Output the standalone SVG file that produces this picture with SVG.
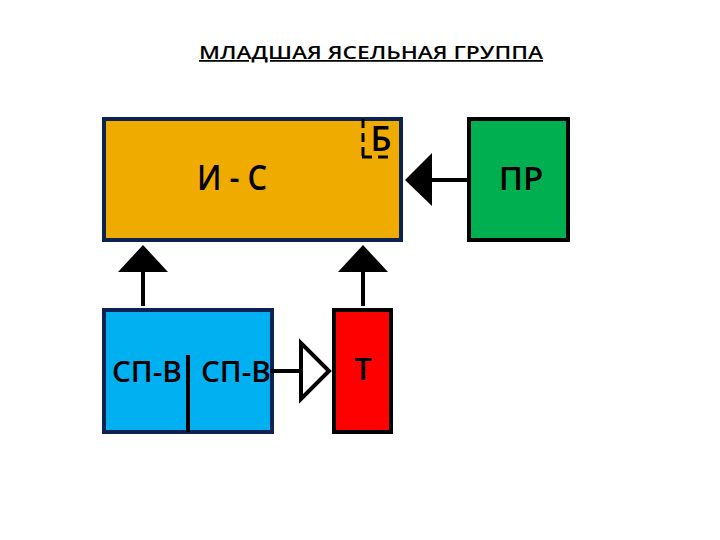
<svg xmlns="http://www.w3.org/2000/svg" width="720" height="540" viewBox="0 0 720 540">
<style>
.lbl{font-family:"Open Sans","Noto Sans",sans-serif;font-weight:600;fill:#000;text-anchor:middle}
.navy{stroke:#0b2352;stroke-width:4}
.blk{stroke:#000;stroke-width:4}
.ln{stroke:#000;stroke-width:4;fill:none}
</style>
<rect width="720" height="540" fill="#fff"/>
<text x="371" y="59" font-family="Open Sans, sans-serif" font-weight="600" font-size="17.5" text-anchor="middle" text-decoration="underline" textLength="344" lengthAdjust="spacingAndGlyphs">МЛАДШАЯ ЯСЕЛЬНАЯ ГРУППА</text>
<g id="node-is">
<rect x="104" y="119" width="297" height="121" fill="#f0ab00" class="navy"/>
<text class="lbl" x="232" y="190" font-size="34" textLength="70" lengthAdjust="spacingAndGlyphs">И - С</text>
</g>
<g id="node-b">
<line x1="363" y1="119" x2="363" y2="157" stroke="#000" stroke-width="3" stroke-dasharray="9,5"/>
<line x1="362" y1="157" x2="394" y2="157" stroke="#000" stroke-width="3" stroke-dasharray="10,6"/>
<text class="lbl" x="381" y="151" font-size="34" font-weight="700" textLength="21" lengthAdjust="spacingAndGlyphs">Б</text>
</g>
<g id="node-pr">
<rect x="469" y="119" width="99" height="121" fill="#00b050" class="blk"/>
<text class="lbl" x="521" y="190" font-size="33">ПР</text>
</g>
<g id="node-spv">
<rect x="104" y="310" width="168" height="122" fill="#00b0f0" class="navy"/>
<line x1="188" y1="355" x2="188" y2="432" class="ln"/>
<text class="lbl" x="147" y="382" font-size="29" fill="#0b1a3a" textLength="70" lengthAdjust="spacingAndGlyphs">СП-В</text>
<text class="lbl" x="236" y="382" font-size="29" fill="#0b1a3a" textLength="70" lengthAdjust="spacingAndGlyphs">СП-В</text>
</g>
<g id="node-t">
<rect x="334" y="310" width="57" height="122" fill="#ff0000" class="blk"/>
<text class="lbl" x="363" y="380" font-size="31">Т</text>
</g>
<g id="connectors">
<line x1="467" y1="180" x2="430" y2="180" class="ln"/>
<polygon points="405,180 432,153 432,206" fill="#000"/>
<line x1="143" y1="306" x2="143" y2="268" class="ln"/>
<polygon points="143,245 118,272 168,272" fill="#000"/>
<line x1="363" y1="306" x2="363" y2="268" class="ln"/>
<polygon points="363,245 338,272 388,272" fill="#000"/>
<line x1="270" y1="371" x2="301" y2="371" class="ln"/>
<polygon points="301,343 301,399 329,371" fill="#fff" stroke="#000" stroke-width="4" stroke-linejoin="miter"/>
</g>
</svg>
